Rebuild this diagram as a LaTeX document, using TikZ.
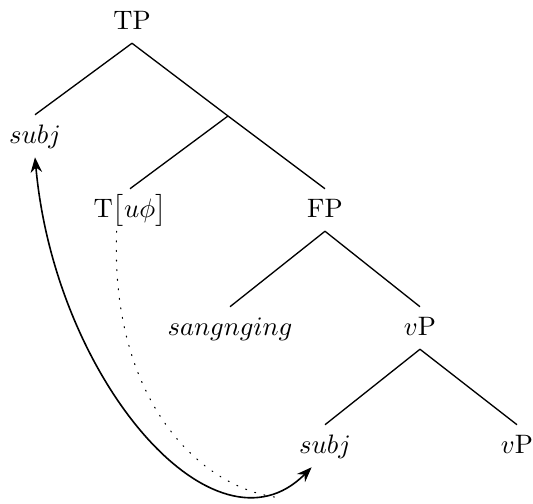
\documentclass[tikz,border=0pt]{standalone}
\usetikzlibrary{arrows.meta}

\begin{document}
\begin{tikzpicture}[
                x=0.375pt, y=-0.375pt,
                every node/.style={inner sep=4pt, text height=1.5ex, text depth=.25ex},
                branch/.style={line width=0.5pt},
                move/.style={Stealth-Stealth, semithick},
                agree/.style={dash pattern=on 0.4pt off 3.2pt, line cap=round}
            ]
                \useasboundingbox (0,0) rectangle (533,504);
                % nodes of the tree
                \node (tp)    at (132,22)  {TP};
                \node (subja) at (35,136)  {$subj$};
                \coordinate (tbar) at (228,116);
                \node (t)     at (130,210) {T$\big[u\phi\big]$};
                \node (fp)    at (325,210) {FP};
                \node (sang)  at (230,328) {$sangnging$};
                \node (vp)    at (420,328) {$v$P};
                \node (subjb) at (325,446) {$subj$};
                \node (vpb)   at (517,446) {$v$P};
                % branches
                \draw[branch] (tp.south)  -- (subja.north);
                \draw[branch] (tp.south)  -- (tbar);
                \draw[branch] (tbar)      -- (t.north);
                \draw[branch] (tbar)      -- (fp.north);
                \draw[branch] (fp.south)  -- (sang.north);
                \draw[branch] (fp.south)  -- (vp.north);
                \draw[branch] (vp.south)  -- (subjb.north);
                \draw[branch] (vp.south)  -- (vpb.north);
                % movement and agreement
                \draw[move] (subja.south) .. controls (55,380) and (215,565) .. ([xshift=-5pt]subjb.south);
                \draw[agree] ([xshift=-5pt]t.south) .. controls (110,400) and (200,490) .. (282,498);
            \end{tikzpicture}
\end{document}
